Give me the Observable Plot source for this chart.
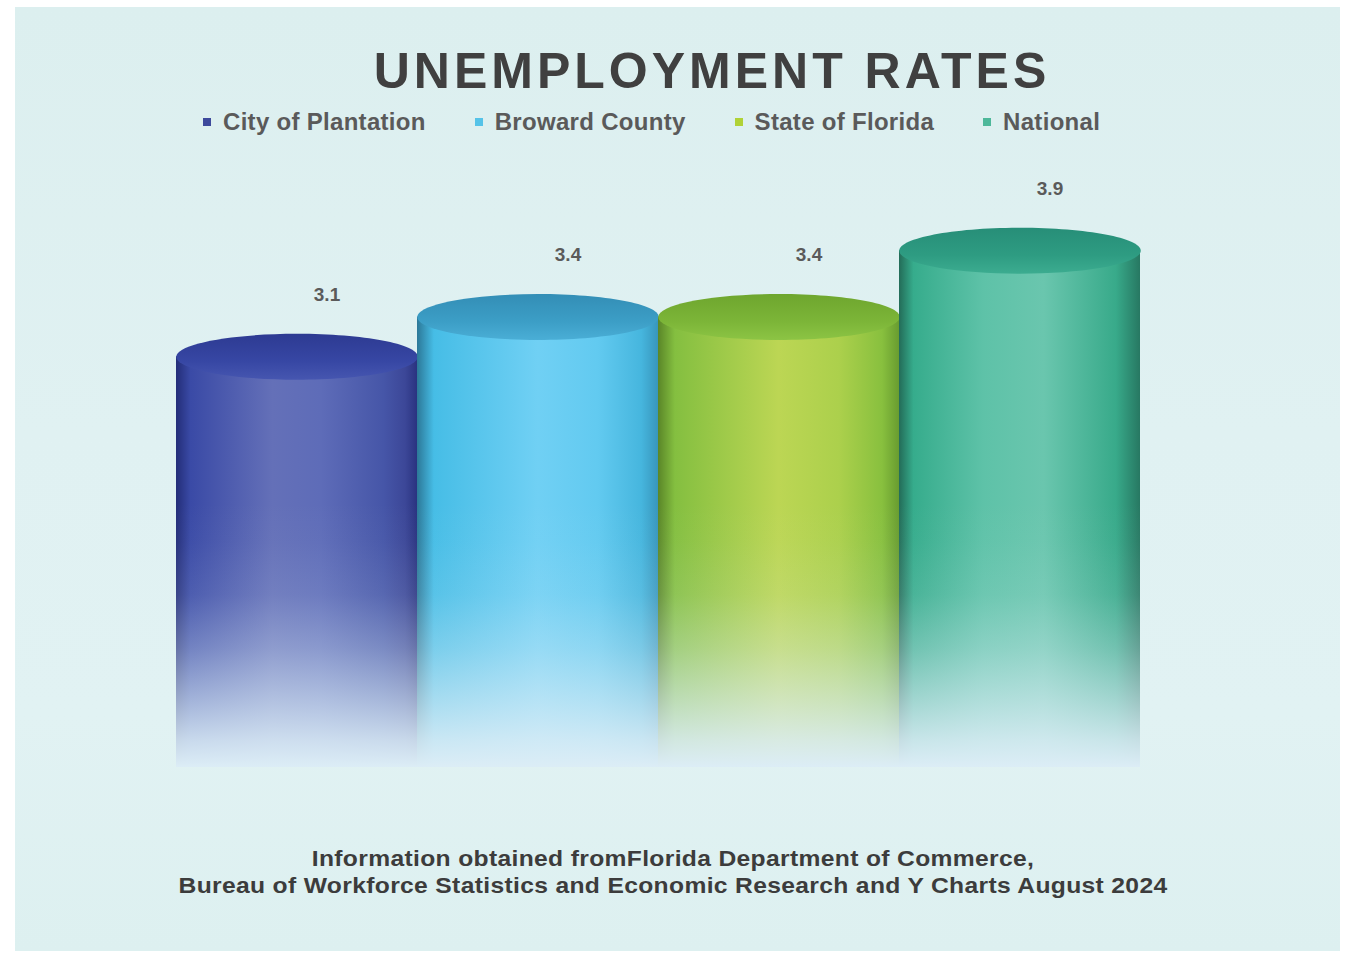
<!DOCTYPE html>
<html>
<head>
<meta charset="utf-8">
<script src="https://cdn.jsdelivr.net/npm/d3@7"></script>
<script src="https://cdn.jsdelivr.net/npm/@observablehq/plot@0.6"></script>
<style>
  html, body { margin: 0; padding: 0; background: #ffffff; width: 1346px; height: 955px; overflow: hidden;
    font-family: "Liberation Sans", Arial, sans-serif; }
  #panel { position: absolute; left: 15px; top: 7px; width: 1325px; height: 944px;
    background: linear-gradient(180deg, #dcefef 0%, #e0f1f2 45%, #e1f2f3 75%, #ddf0f0 100%); }
  #chart { position: absolute; left: 0; top: 0; }
  #title { position: absolute; left: 712px; top: 46px; transform: translateX(-50%); white-space: nowrap;
    font-size: 50px; line-height: 50px; font-weight: bold; letter-spacing: 4px; color: #404040; }
  #legend { position: absolute; left: 203px; top: 110px; white-space: nowrap;
    display: flex; gap: 49px; font-size: 24px; line-height: 24px; font-weight: bold; letter-spacing: 0.3px; color: #5a5a5a; }
  #legend .item { display: flex; align-items: center; }
  #legend .sw { width: 8px; height: 8px; margin-right: 12px; display: inline-block; }
  #caption { position: absolute; left: 673px; top: 845px; transform: translateX(-50%) scaleX(1.12); white-space: nowrap;
    text-align: center; font-size: 22px; line-height: 27px; font-weight: bold; letter-spacing: 0.3px; color: #3c3c3c; }
</style>
</head>
<body>
<div id="panel"></div>
<div id="chart"></div>
<div id="title">UNEMPLOYMENT RATES</div>
<div id="legend"></div>
<div id="caption">Information obtained fromFlorida Department of Commerce,<br>Bureau of Workforce Statistics and Economic Research and Y Charts August 2024</div>
<script>
// ---- data ----
const categories = ["City of Plantation", "Broward County", "State of Florida", "National"];
const rates = [3.1, 3.4, 3.4, 3.9];

// ---- styles ----
const legendColors = ["#3d4a9c", "#55c3e8", "#b0d236", "#4db89a"];
const bodyStops = [
  [[0, "#232d78"], [0.06, "#3a4aa6"], [0.4, "#6470b8"], [0.6, "#5e6cb8"], [0.86, "#4656a8"], [0.95, "#3c4798"], [1, "#2a3380"]],
  [[0, "#2c7898"], [0.07, "#46bde6"], [0.5, "#70d0f4"], [0.75, "#62caf0"], [0.93, "#46b6de"], [1, "#3896bc"]],
  [[0, "#5a8628"], [0.07, "#84bf40"], [0.5, "#bcd654"], [0.75, "#acd04c"], [0.93, "#88c03e"], [1, "#689c30"]],
  [[0, "#236c58"], [0.06, "#36ac8c"], [0.35, "#5ec2a8"], [0.6, "#6ac6ae"], [0.9, "#38aa8a"], [1, "#277862"]]
];
const topStops = [
  [[0, "#2d3a92"], [0.6, "#3747a4"], [1, "#4656b0"]],
  [[0, "#338eb6"], [0.6, "#3c9ec6"], [1, "#4aaed6"]],
  [[0, "#6ea62e"], [0.6, "#7cb538"], [1, "#8cc444"]],
  [[0, "#278e78"], [0.6, "#2e9c82"], [1, "#3cac90"]]
];
const fadeColor = "#dcedf6";
const fadeStops = [[0, 0], [0.15, 0.03], [0.35, 0.12], [0.55, 0.35], [0.75, 0.65], [0.9, 0.88], [1, 1]];

const data = categories.map((name, i) => ({name, value: rates[i]}));

const W = 1346, H = 955;
const mL = 175, mR = 205, mT = 104.5, mB = 188;
const bw = (W - mL - mR) / categories.length;

const ellipse = {
  draw(ctx, size) {
    const rx = Math.sqrt(size / Math.PI), ry = rx * 0.19, k = 0.5523;
    ctx.moveTo(rx, 0);
    ctx.bezierCurveTo(rx, ry * k, rx * k, ry, 0, ry);
    ctx.bezierCurveTo(-rx * k, ry, -rx, ry * k, -rx, 0);
    ctx.bezierCurveTo(-rx, -ry * k, -rx * k, -ry, 0, -ry);
    ctx.bezierCurveTo(rx * k, -ry, rx, -ry * k, rx, 0);
    ctx.closePath();
  }
};

const marks = [];
data.forEach((d, i) => {
  const row = [d];
  marks.push(Plot.barY(row, {x: "name", y: "value", fill: `url(#body${i})`}));
  marks.push(Plot.barY(row, {x: "name", y: "value", fill: "url(#fade)"}));
  marks.push(Plot.dot(row, {x: "name", y: "value", symbol: ellipse, r: bw / 2, fill: `url(#top${i})`, stroke: "none"}));
});
marks.push(Plot.text(data, {x: "name", y: "value", text: d => d.value.toFixed(1), dy: -62, dx: 30,
  fontSize: 19, fontWeight: "bold", fill: "#5a5a5a", fontFamily: "Liberation Sans, Arial, sans-serif"}));

const chart = Plot.plot({
  width: W, height: H,
  marginLeft: mL, marginRight: mR, marginTop: mT, marginBottom: mB,
  style: {background: "transparent", overflow: "visible"},
  x: {domain: categories, padding: 0, axis: null},
  y: {domain: [0, 5], axis: null},
  marks
});

const y = chart.scale("y");
const svg = d3.select(chart);
const defs = svg.insert("defs", ":first-child");
bodyStops.forEach((stops, i) => {
  const g = defs.append("linearGradient").attr("id", `body${i}`).attr("x1", 0).attr("x2", 1).attr("y1", 0).attr("y2", 0);
  stops.forEach(([o, c]) => g.append("stop").attr("offset", o).attr("stop-color", c));
});
topStops.forEach((stops, i) => {
  const g = defs.append("linearGradient").attr("id", `top${i}`).attr("x1", 0).attr("x2", 0).attr("y1", 0).attr("y2", 1);
  stops.forEach(([o, c]) => g.append("stop").attr("offset", o).attr("stop-color", c));
});
const fade = defs.append("linearGradient").attr("id", "fade").attr("gradientUnits", "userSpaceOnUse")
  .attr("x1", 0).attr("x2", 0).attr("y1", y.apply(2.0)).attr("y2", y.apply(0));
fadeStops.forEach(([o, a]) =>
  fade.append("stop").attr("offset", o).attr("stop-color", fadeColor).attr("stop-opacity", a));

document.getElementById("chart").appendChild(chart);

const legend = d3.select("#legend");
categories.forEach((c, i) => {
  const it = legend.append("div").attr("class", "item");
  it.append("span").attr("class", "sw").style("background", legendColors[i]);
  it.append("span").text(c);
});
</script>
</body>
</html>
